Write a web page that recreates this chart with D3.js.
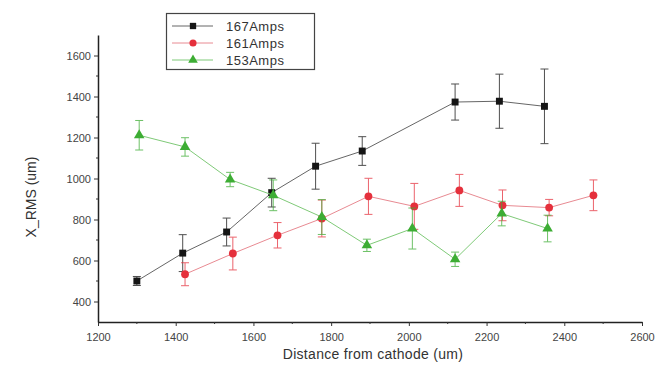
<!DOCTYPE html>
<html>
<head>
<meta charset="utf-8">
<script src="https://cdn.jsdelivr.net/npm/d3@7"></script>
<style>
  body { margin: 0; background: #fff; }
  text { font-family: "Liberation Sans", Arial, sans-serif; }
</style>
</head>
<body>
<script>
// series: x (um), value, error
const amps167X = [1300, 1418, 1531, 1647, 1760, 1880, 2119, 2233, 2349];
const amps167Y = [500, 636, 739, 931, 1060, 1134, 1373, 1377, 1352];
const amps167E = [22, 90, 68, 70, 112, 70, 88, 132, 182];

const amps161X = [1424, 1547, 1662, 1776, 1896, 2014, 2130, 2241, 2361, 2475];
const amps161Y = [533, 634, 723, 805, 913, 864, 942, 869, 858, 918];
const amps161E = [56, 80, 62, 90, 88, 112, 78, 75, 40, 75];

const amps153X = [1306, 1424, 1540, 1651, 1776, 1892, 2009, 2119, 2239, 2357];
const amps153Y = [1211, 1154, 995, 918, 812, 674, 756, 606, 829, 756];
const amps153E = [72, 45, 35, 75, 85, 30, 100, 35, 60, 65];

const xTicks = [1200, 1400, 1600, 1800, 2000, 2200, 2400, 2600];
const yTicks = [400, 600, 800, 1000, 1200, 1400, 1600];

const width = 661, height = 365;
const margin = {left: 98, right: 19, top: 35, bottom: 43};

const svg = d3.select('body').append('svg')
  .attr('width', width)
  .attr('height', height);

const x = d3.scaleLinear().domain([1200, 2600]).range([margin.left, width - margin.right]);
const y = d3.scaleLinear().domain([300, 1700]).range([height - margin.bottom, margin.top]);

const series = [
  {name: '167Amps', xs: amps167X, ys: amps167Y, es: amps167E, color: '#151515', line: '#666', shape: d3.symbolSquare},
  {name: '161Amps', xs: amps161X, ys: amps161Y, es: amps161E, color: '#e5303c', line: '#e88a92', shape: d3.symbolCircle},
  {name: '153Amps', xs: amps153X, ys: amps153Y, es: amps153E, color: '#3dad34', line: '#7fca78', shape: d3.symbolTriangle}
];

// axes
const xAxis = svg.append('g')
  .attr('transform', `translate(0,${height - margin.bottom})`)
  .call(d3.axisBottom(x).tickValues(xTicks).tickFormat(d3.format('d')).tickSize(4).tickSizeOuter(0));
const yAxis = svg.append('g')
  .attr('transform', `translate(${margin.left},0)`)
  .call(d3.axisLeft(y).tickValues(yTicks).tickFormat(d3.format('d')).tickSize(4).tickSizeOuter(0));

// minor ticks
svg.append('g').selectAll('line')
  .data(d3.range(1300, 2600, 200))
  .enter().append('line')
  .attr('x1', d => x(d)).attr('x2', d => x(d))
  .attr('y1', height - margin.bottom).attr('y2', height - margin.bottom + 2)
  .attr('stroke', '#333');
svg.append('g').selectAll('line')
  .data(d3.range(500, 1700, 200))
  .enter().append('line')
  .attr('y1', d => y(d)).attr('y2', d => y(d))
  .attr('x1', margin.left).attr('x2', margin.left - 2)
  .attr('stroke', '#333');

[xAxis, yAxis].forEach(a => {
  a.select('.domain').attr('stroke', '#222').attr('stroke-width', 1.5);
  a.selectAll('.tick line').attr('stroke', '#333');
  a.selectAll('text').attr('fill', '#444').style('font-size', '11px');
});
xAxis.selectAll('text').attr('dy', '1.1em');

svg.append('text')
  .attr('x', 373).attr('y', 359)
  .attr('text-anchor', 'middle')
  .attr('fill', '#333')
  .style('font-size', '14px')
  .style('letter-spacing', '0.3px')
  .text('Distance from cathode (um)');

svg.append('text')
  .attr('transform', 'translate(36,197) rotate(-90)')
  .attr('text-anchor', 'middle')
  .attr('fill', '#333')
  .style('font-size', '14px')
  .text('X_RMS (um)');

// series
series.forEach(s => {
  const pts = s.xs.map((v, i) => ({x: v, y: s.ys[i], e: s.es[i]}));
  const g = svg.append('g');

  g.append('path')
    .datum(pts)
    .attr('fill', 'none')
    .attr('stroke', s.line)
    .attr('stroke-width', 1)
    .attr('d', d3.line().x(d => x(d.x)).y(d => y(d.y)));

  const eb = g.selectAll('.err').data(pts).enter().append('g')
    .attr('stroke', s.color).attr('stroke-width', 1).attr('opacity', 0.75);
  eb.append('line')
    .attr('x1', d => x(d.x)).attr('x2', d => x(d.x))
    .attr('y1', d => y(d.y - d.e)).attr('y2', d => y(d.y + d.e));
  eb.append('line')
    .attr('x1', d => x(d.x) - 4).attr('x2', d => x(d.x) + 4)
    .attr('y1', d => y(d.y + d.e)).attr('y2', d => y(d.y + d.e));
  eb.append('line')
    .attr('x1', d => x(d.x) - 4).attr('x2', d => x(d.x) + 4)
    .attr('y1', d => y(d.y - d.e)).attr('y2', d => y(d.y - d.e));

  g.selectAll('.pt').data(pts).enter().append('path')
    .attr('transform', d => `translate(${x(d.x)},${y(d.y)})`)
    .attr('d', d3.symbol().type(s.shape).size(48))
    .attr('fill', s.color);
});

// legend
const legend = svg.append('g');
legend.append('rect')
  .attr('x', 166.5).attr('y', 13.5).attr('width', 148).attr('height', 56)
  .attr('fill', '#fff').attr('stroke', '#444').attr('stroke-width', 1.2);
series.forEach((s, i) => {
  const ly = 26 + i * 17;
  legend.append('line')
    .attr('x1', 172).attr('x2', 213).attr('y1', ly).attr('y2', ly)
    .attr('stroke', s.line).attr('stroke-width', 1);
  legend.append('path')
    .attr('transform', `translate(193,${ly})`)
    .attr('d', d3.symbol().type(s.shape).size(40))
    .attr('fill', s.color);
  legend.append('text')
    .attr('x', 226).attr('y', ly + 5)
    .attr('fill', '#333')
    .style('font-size', '13px')
    .style('letter-spacing', '0.5px')
    .text(s.name);
});
</script>
</body>
</html>
